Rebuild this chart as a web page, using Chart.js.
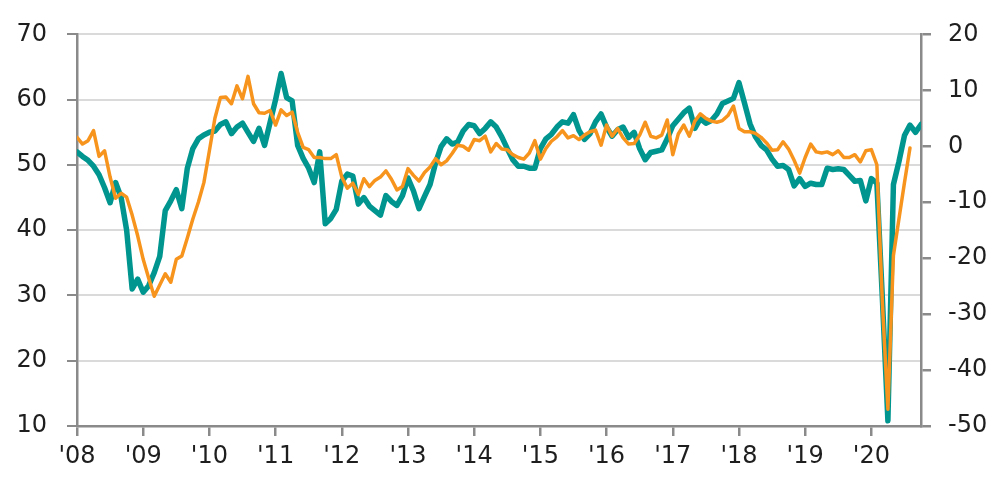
<!DOCTYPE html>
<html lang="en">
<head>
    <meta charset="UTF-8">
    <title>Two indicators, 2008-2020</title>
    <script src="https://cdn.jsdelivr.net/npm/chart.js"></script>
    <style>
        body { margin: 0; background: #fff; }
        .wrap { width: 1003px; height: 480px; position: relative; }
    </style>
</head>
<body>
    <div class="wrap"><canvas id="chart"></canvas></div>

    <script>
        // tick labels on the time axis (one per January)
        const yearLabels = ["'08", "'09", "'10", "'11", "'12", "'13", "'14", "'15", "'16", "'17", "'18", "'19", "'20"];

        // teal series, left axis, monthly from Jan 2008 to Oct 2020
        const tealValues = [
            52, 51.3, 50.7, 49.8, 48.5, 46.5, 44.2, 47.3, 45, 40, 31, 32.5,
            30.5, 31.5, 33.5, 36, 43, 44.5, 46.2, 43.3, 49.5, 52.5, 54, 54.6,
            55, 55.2, 56.2, 56.6, 54.8, 55.8, 56.4, 55, 53.6, 55.6, 53, 56.5,
            60, 64, 60.3, 59.8, 53, 51, 49.5, 47.3, 52, 41, 41.8, 43.2,
            47.5, 48.6, 48.3, 44, 45, 43.7, 43, 42.3, 45.3, 44.4, 43.8, 45.3,
            48, 46, 43.3, 45.2, 47, 50.3, 52.8, 54, 53.2, 53.5, 55.2, 56.2,
            56, 54.8, 55.6, 56.6, 55.8, 54.3, 52.5, 50.8, 49.8, 49.8, 49.5, 49.5,
            52.5, 54, 54.7, 55.8, 56.6, 56.4, 57.7, 55.3, 53.9, 54.8, 56.6, 57.8,
            55.8, 54.4, 55.4, 55.8, 54.2, 55, 52.5, 50.8, 51.9, 52.1, 52.3, 54,
            56, 57, 58, 58.7, 55.6, 57.1, 56.4, 56.8, 57.8, 59.4, 59.8, 60.2,
            62.6, 59.5, 56.3, 54.3, 53, 52.3, 50.9, 49.8, 49.9, 49.3, 46.8, 47.9,
            46.7, 47.2, 47, 47, 49.5, 49.3, 49.4, 49.3, 48.4, 47.5, 47.6, 44.5,
            47.9, 47.2, 29.5, 10.8, 47, 50.5, 54.5, 56.1, 55, 56.2
        ];

        // orange series, right axis, monthly from Jan 2008 to Aug 2020
        const orangeValues = [
            1.6, 0.4, 1, 2.8, -1.8, -0.8, -5.5, -9.3, -8.4, -9.1, -12.3, -16,
            -20.2, -23.6, -26.8, -24.8, -22.8, -24.3, -20.2, -19.6, -16.4, -13, -10, -6.5,
            -0.8, 5, 8.7, 8.8, 7.6, 10.8, 8.5, 12.5, 7.6, 6, 5.9, 6.4,
            3.8, 6.5, 5.5, 6.1, 2.5, -0.2, -0.6, -2, -2, -2.2, -2.2, -1.5,
            -5.5, -7.5, -6.6, -8.6, -5.8, -7.2, -6.1, -5.5, -4.4, -5.9, -7.8, -7.2,
            -4, -5.2, -6.2, -4.7, -3.7, -2.2, -3.3, -2.6, -1.3, 0.2, 0, -0.7,
            1.2, 1, 1.8, -1, 0.5, -0.5, -0.6, -1.5, -2, -2.3, -1.2, 1,
            -2.3, -0.4, 0.9, 1.7, 2.8, 1.5, 1.9, 1.2, 2, 2.6, 2.9, 0.2,
            3.8, 1.8, 3.2, 1.5, 0.4, 0.5, 2, 4.3, 1.8, 1.5, 2, 4.7,
            -1.5, 2.2, 3.8, 1.8, 4.5, 5.8, 5, 4.5, 4.3, 4.6, 5.5, 7.2,
            3.2, 2.6, 2.6, 2.3, 1.6, 0.6, -0.7, -0.6, 0.8, -0.5, -2.5, -4.8,
            -2, 0.4, -1, -1.2, -1, -1.5, -0.8, -2, -2, -1.5, -2.8, -0.8,
            -0.6, -3.3, -28, -47, -19.5, -13, -6.5, -0.3
        ];

        const monthCount = 153; // Jan 2008 = 0 ... Oct 2020 = 153

        const axisGrey = '#8a8a8a';
        const textColor = '#1e1e1e';
        const labelFont = { family: 'DejaVu Sans', size: 24 };

        const toPoints = arr => arr.map((v, i) => ({ x: i, y: v }));

        new Chart(document.getElementById('chart'), {
            type: 'line',
            data: {
                datasets: [{
                    label: 'Orange',
                    data: toPoints(orangeValues),
                    yAxisID: 'yRight',
                    borderColor: '#f7941d',
                    borderWidth: 3.5,
                    borderJoinStyle: 'round',
                    borderCapStyle: 'round',
                    pointRadius: 0,
                    tension: 0,
                    order: 0
                }, {
                    label: 'Teal',
                    data: toPoints(tealValues),
                    yAxisID: 'yLeft',
                    borderColor: '#00968f',
                    borderWidth: 5.5,
                    borderJoinStyle: 'round',
                    borderCapStyle: 'round',
                    pointRadius: 0,
                    tension: 0,
                    order: 1
                }]
            },
            options: {
                responsive: true,
                maintainAspectRatio: false,
                animation: false,
                layout: { padding: { top: 21, left: 0, right: 0, bottom: 0 } },
                plugins: {
                    legend: { display: false },
                    tooltip: { enabled: false }
                },
                scales: {
                    x: {
                        type: 'linear',
                        min: 0,
                        max: monthCount,
                        afterFit: scale => { scale.height = 54; },
                        border: { color: axisGrey, width: 2.5 },
                        grid: { drawOnChartArea: false, tickLength: 10, tickColor: axisGrey, lineWidth: 2.5 },
                        ticks: {
                            stepSize: 12,
                            includeBounds: false,
                            autoSkip: false,
                            maxRotation: 0,
                            padding: 6,
                            color: textColor,
                            font: labelFont,
                            callback: v => yearLabels[v / 12]
                        }
                    },
                    yLeft: {
                        position: 'left',
                        min: 10,
                        max: 70,
                        afterFit: scale => { scale.width = 77; },
                        border: { color: axisGrey, width: 2.5 },
                        grid: { color: '#dadada', lineWidth: 2, tickLength: 10, tickColor: axisGrey },
                        ticks: { stepSize: 10, padding: 20, color: textColor, font: labelFont }
                    },
                    yRight: {
                        position: 'right',
                        min: -50,
                        max: 20,
                        afterFit: scale => { scale.width = 82; },
                        border: { color: axisGrey, width: 2.5 },
                        grid: { drawOnChartArea: false, tickLength: 10, tickColor: axisGrey, lineWidth: 2.5 },
                        ticks: { stepSize: 10, padding: 17, color: textColor, font: labelFont }
                    }
                }
            }
        });
    </script>
</body>
</html>
